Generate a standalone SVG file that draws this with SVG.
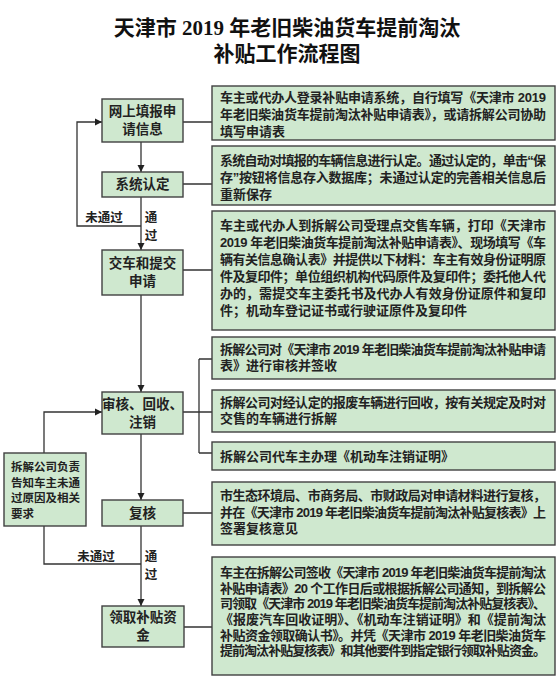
<svg xmlns="http://www.w3.org/2000/svg" width="560" height="681" viewBox="0 0 560 681">
<defs>
<marker id="arr" markerWidth="8" markerHeight="8" refX="7" refY="4" orient="auto" markerUnits="userSpaceOnUse">
<path d="M0,0.5 L7,4 L0,7.5 Z" fill="#222"/>
</marker>
<style>
.box{fill:#cfe8cf;stroke:#404040;stroke-width:1.4}
.title{font-family:"Liberation Serif","Noto Sans CJK SC",serif;font-size:21px;font-weight:bold;fill:#111;text-anchor:middle}
.lt{font-family:"Liberation Sans","Noto Sans CJK SC",sans-serif;font-size:13.5px;font-weight:bold;fill:#222;text-anchor:middle}
.rt{font-family:"Liberation Sans","Noto Sans CJK SC",sans-serif;font-size:13px;font-weight:bold;fill:#222}
.sm{font-family:"Liberation Sans","Noto Sans CJK SC",sans-serif;font-size:12.5px;font-weight:bold;fill:#222}
.ls{font-family:"Liberation Sans","Noto Sans CJK SC",sans-serif;font-size:11.5px;font-weight:bold;fill:#222}
.ln{fill:none;stroke:#333;stroke-width:1.3}
</style>
</defs>
<rect width="560" height="681" fill="#ffffff"/>
<g id="title">
<text class="title" x="287" y="35">天津市 2019 年老旧柴油货车提前淘汰</text>
<text class="title" x="287" y="61">补贴工作流程图</text>
</g>
<g id="connectors">
<path class="ln" d="M141,142 V172" marker-end="url(#arr)"/>
<path class="ln" d="M141,197 V250" marker-end="url(#arr)"/>
<path class="ln" d="M141,226 H77 V122 H102" marker-end="url(#arr)"/>
<path class="ln" d="M141,295 V392" marker-end="url(#arr)"/>
<path class="ln" d="M141,434 V500" marker-end="url(#arr)"/>
<path class="ln" d="M141,526 V606" marker-end="url(#arr)"/>
<path class="ln" d="M141,564 H44 V526"/>
<path class="ln" d="M44,453 V412 H102" marker-end="url(#arr)"/>
<path class="ln" d="M183,122 H212 M183,184 H212 M183,270 H212 M183,412 H212 M199,359 V453 M199,359 H212 M199,453 H212 M183,513 H212 M184,627 H212"/>
<text class="sm" x="104" y="222" text-anchor="middle">未通过</text>
<text class="sm" x="151" y="222" text-anchor="middle">通</text>
<text class="sm" x="151" y="240" text-anchor="middle">过</text>
<text class="sm" x="96" y="561" text-anchor="middle">未通过</text>
<text class="sm" x="151" y="561" text-anchor="middle">通</text>
<text class="sm" x="151" y="579" text-anchor="middle">过</text>
</g>
<g id="n1">
<rect class="box" x="102" y="99" width="81" height="43"/>
<text class="lt" x="142.5" y="116">网上填报申</text>
<text class="lt" x="142.5" y="134">请信息</text>
</g>
<g id="n2">
<rect class="box" x="102" y="172" width="81" height="25"/>
<text class="lt" x="142.5" y="189">系统认定</text>
</g>
<g id="n3">
<rect class="box" x="102" y="250" width="81" height="45"/>
<text class="lt" x="142.5" y="268">交车和提交</text>
<text class="lt" x="142.5" y="286">申请</text>
</g>
<g id="n4">
<rect class="box" x="102" y="392" width="81" height="42"/>
<text class="lt" x="142.5" y="409">审核、回收、</text>
<text class="lt" x="142.5" y="427">注销</text>
</g>
<g id="n5">
<rect class="box" x="102" y="500" width="81" height="26"/>
<text class="lt" x="142.5" y="518">复核</text>
</g>
<g id="n6">
<rect class="box" x="102" y="606" width="82" height="41"/>
<text class="lt" x="143" y="622">领取补贴资</text>
<text class="lt" x="143" y="640">金</text>
</g>
<g id="n7">
<rect class="box" x="4" y="453" width="82" height="73"/>
<text class="ls" x="11" y="471">拆解公司负责</text>
<text class="ls" x="11" y="487">告知车主未通</text>
<text class="ls" x="11" y="502">过原因及相关</text>
<text class="ls" x="11" y="518">要求</text>
</g>
<g id="d1">
<rect class="box" x="212" y="86" width="343" height="54"/>
<text class="rt" x="220" y="102" textLength="326" lengthAdjust="spacing">车主或代办人登录补贴申请系统，自行填写《天津市 2019</text>
<text class="rt" x="220" y="119" textLength="326" lengthAdjust="spacing">年老旧柴油货车提前淘汰补贴申请表》，或请拆解公司协助</text>
<text class="rt" x="220" y="136">填写申请表</text>
</g>
<g id="d2">
<rect class="box" x="212" y="146" width="343" height="59"/>
<text class="rt" x="220" y="165" textLength="326" lengthAdjust="spacing">系统自动对填报的车辆信息进行认定。通过认定的，单击“保</text>
<text class="rt" x="220" y="182" textLength="326" lengthAdjust="spacing">存”按钮将信息存入数据库；未通过认定的完善相关信息后</text>
<text class="rt" x="220" y="199">重新保存</text>
</g>
<g id="d3">
<rect class="box" x="212" y="211" width="343" height="119"/>
<text class="rt" x="220" y="230" textLength="326" lengthAdjust="spacing">车主或代办人到拆解公司受理点交售车辆，打印《天津市</text>
<text class="rt" x="220" y="247" textLength="326" lengthAdjust="spacing">2019 年老旧柴油货车提前淘汰补贴申请表》、现场填写《车</text>
<text class="rt" x="220" y="264" textLength="326" lengthAdjust="spacing">辆有关信息确认表》并提供以下材料：车主有效身份证明原</text>
<text class="rt" x="220" y="281" textLength="326" lengthAdjust="spacing">件及复印件；单位组织机构代码原件及复印件；委托他人代</text>
<text class="rt" x="220" y="298" textLength="326" lengthAdjust="spacing">办的，需提交车主委托书及代办人有效身份证原件和复印</text>
<text class="rt" x="220" y="315">件；机动车登记证书或行驶证原件及复印件</text>
</g>
<g id="d4">
<rect class="box" x="212" y="337" width="343" height="42"/>
<text class="rt" x="220" y="354" textLength="326" lengthAdjust="spacing">拆解公司对《天津市 2019 年老旧柴油货车提前淘汰补贴申请</text>
<text class="rt" x="220" y="370">表》进行审核并签收</text>
</g>
<g id="d5">
<rect class="box" x="212" y="390" width="343" height="42"/>
<text class="rt" x="220" y="407" textLength="326" lengthAdjust="spacing">拆解公司对经认定的报废车辆进行回收，按有关规定及时对</text>
<text class="rt" x="220" y="423">交售的车辆进行拆解</text>
</g>
<g id="d6">
<rect class="box" x="212" y="442" width="343" height="28"/>
<text class="rt" x="220" y="461">拆解公司代车主办理《机动车注销证明》</text>
</g>
<g id="d7">
<rect class="box" x="212" y="482" width="343" height="63"/>
<text class="rt" x="220" y="500" textLength="326" lengthAdjust="spacing">市生态环境局、市商务局、市财政局对申请材料进行复核，</text>
<text class="rt" x="220" y="517" textLength="326" lengthAdjust="spacing">并在《天津市 2019 年老旧柴油货车提前淘汰补贴复核表》上</text>
<text class="rt" x="220" y="533">签署复核意见</text>
</g>
<g id="d8">
<rect class="box" x="212" y="557" width="343" height="118"/>
<text class="rt" x="220" y="577" textLength="326" lengthAdjust="spacing">车主在拆解公司签收《天津市 2019 年老旧柴油货车提前淘汰</text>
<text class="rt" x="220" y="593" textLength="326" lengthAdjust="spacing">补贴申请表》20 个工作日后或根据拆解公司通知，到拆解公</text>
<text class="rt" x="220" y="608" textLength="326" lengthAdjust="spacing">司领取《天津市 2019 年老旧柴油货车提前淘汰补贴复核表》、</text>
<text class="rt" x="220" y="624" textLength="326" lengthAdjust="spacing">《报废汽车回收证明》、《机动车注销证明》和《提前淘汰</text>
<text class="rt" x="220" y="640" textLength="326" lengthAdjust="spacing">补贴资金领取确认书》。并凭《天津市 2019 年老旧柴油货车</text>
<text class="rt" x="220" y="655" textLength="326" lengthAdjust="spacing">提前淘汰补贴复核表》和其他要件到指定银行领取补贴资金。</text>
</g>
</svg>
